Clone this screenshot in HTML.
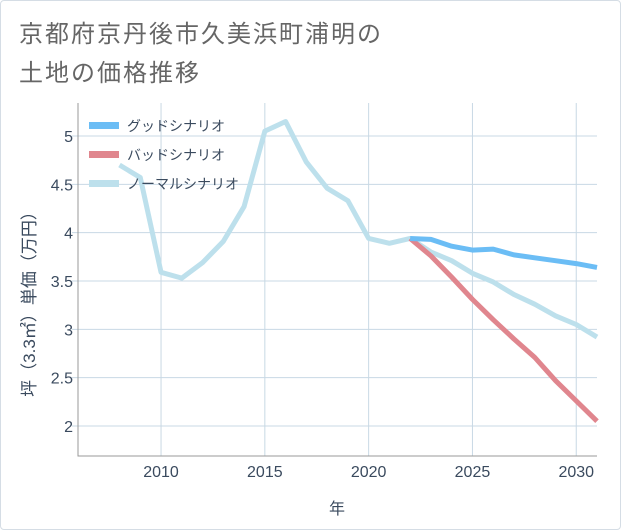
<!DOCTYPE html>
<html><head><meta charset="utf-8"><style>
body{margin:0;background:#fff;}
#wrap{position:relative;width:619px;height:528px;border:1px solid #d5dde5;border-radius:4px;background:#fff;overflow:hidden;}
.title{position:absolute;left:18px;font:24px "Liberation Sans","Noto Sans CJK JP",sans-serif;color:#666;letter-spacing:2px;}
svg text{font-family:"Liberation Sans","Noto Sans CJK JP",sans-serif;}
</style></head><body>
<div id="wrap">
<div class="title" style="top:13px">京都府京丹後市久美浜町浦明の</div>
<div class="title" style="top:52px">土地の価格推移</div>
<svg id="chart" width="621" height="530" style="position:absolute;left:-1px;top:-1px"></svg>
</div>
<script>
const years=[2008,2009,2010,2011,2012,2013,2014,2015,2016,2017,2018,2019,2020,2021,2022,2023,2024,2025,2026,2027,2028,2029,2030,2031];
const normalVals=[4.70,4.57,3.59,3.53,3.69,3.91,4.27,5.05,5.15,4.73,4.46,4.33,3.94,3.89,3.94,3.80,3.71,3.58,3.49,3.36,3.26,3.14,3.05,2.92];
const futureYears=[2022,2023,2024,2025,2026,2027,2028,2029,2030,2031];
const goodVals=[3.94,3.93,3.86,3.82,3.83,3.77,3.74,3.71,3.68,3.64];
const badVals=[3.94,3.76,3.54,3.31,3.10,2.90,2.71,2.47,2.26,2.05];
const xTicks=[2010,2015,2020,2025,2030];
const yTicks=[2,2.5,3,3.5,4,4.5,5];
const yTickLabels=["2","2.5","3","3.5","4","4.5","5"];
const L=78,R=597,T=103,B=456;
const xs=y=>L+(y-2006)*(R-L)/(2031-2006);
const ys=v=>426-(v-2)*(426-136)/3;
const svg=document.getElementById('chart');
const NS='http://www.w3.org/2000/svg';
function mk(t,a,p){const e=document.createElementNS(NS,t);for(const k in a)e.setAttribute(k,a[k]);(p||svg).appendChild(e);return e;}
xTicks.forEach(t=>{const l=mk('line',{x1:xs(t),x2:xs(t),y1:T,y2:B,stroke:'#c8d8e4','stroke-width':1});


const tx=mk('text',{x:xs(t),y:477,'text-anchor':'middle','font-size':16,fill:'#3a4a5e'});tx.textContent=t;

});
yTicks.forEach((t,i)=>{const l=mk('line',{x1:L-6,x2:R,y1:ys(t),y2:ys(t),stroke:'#c8d8e4','stroke-width':1});


const tx=mk('text',{x:L-5,y:ys(t)+6,'text-anchor':'end','font-size':16,fill:'#3a4a5e'});tx.textContent=yTickLabels[i];

});
const fr=mk('path',{d:`M${L},${T}V${B}H${R}`,fill:'none',stroke:'#999','stroke-width':1});


function line(xa,va,color,name){const d=xa.map((x,i)=>(i?'L':'M')+xs(x)+','+ys(va[i])).join('');
const p=mk('path',{d,fill:'none',stroke:color,'stroke-width':5,'stroke-linejoin':'round'});

}
line(years,normalVals,'#bde0ec','normal-scenario-line');
line(futureYears,badVals,'#e0868e','bad-scenario-line');
line(futureYears,goodVals,'#6bbdf5','good-scenario-line');
const leg=[['グッドシナリオ','#6bbdf5','legend-good'],['バッドシナリオ','#e0868e','legend-bad'],['ノーマルシナリオ','#bde0ec','legend-normal']];
leg.forEach((g,i)=>{const y=126+i*29;
const r=mk('rect',{x:89,y:y-4,width:30,height:7,fill:g[1]});


const t=mk('text',{x:127,y:y+5,'font-size':14,fill:'#3a4a5e'});t.textContent=g[0];

});
const xt=mk('text',{x:337,y:514,'text-anchor':'middle','font-size':16,fill:'#3a4a5e'});xt.textContent='年';


const yt=mk('text',{x:0,y:0,'text-anchor':'middle','font-size':17,fill:'#3a4a5e',transform:'translate(35,300) rotate(-90)'});yt.textContent='坪（3.3㎡）単価（万円）';


</script>
</body></html>
